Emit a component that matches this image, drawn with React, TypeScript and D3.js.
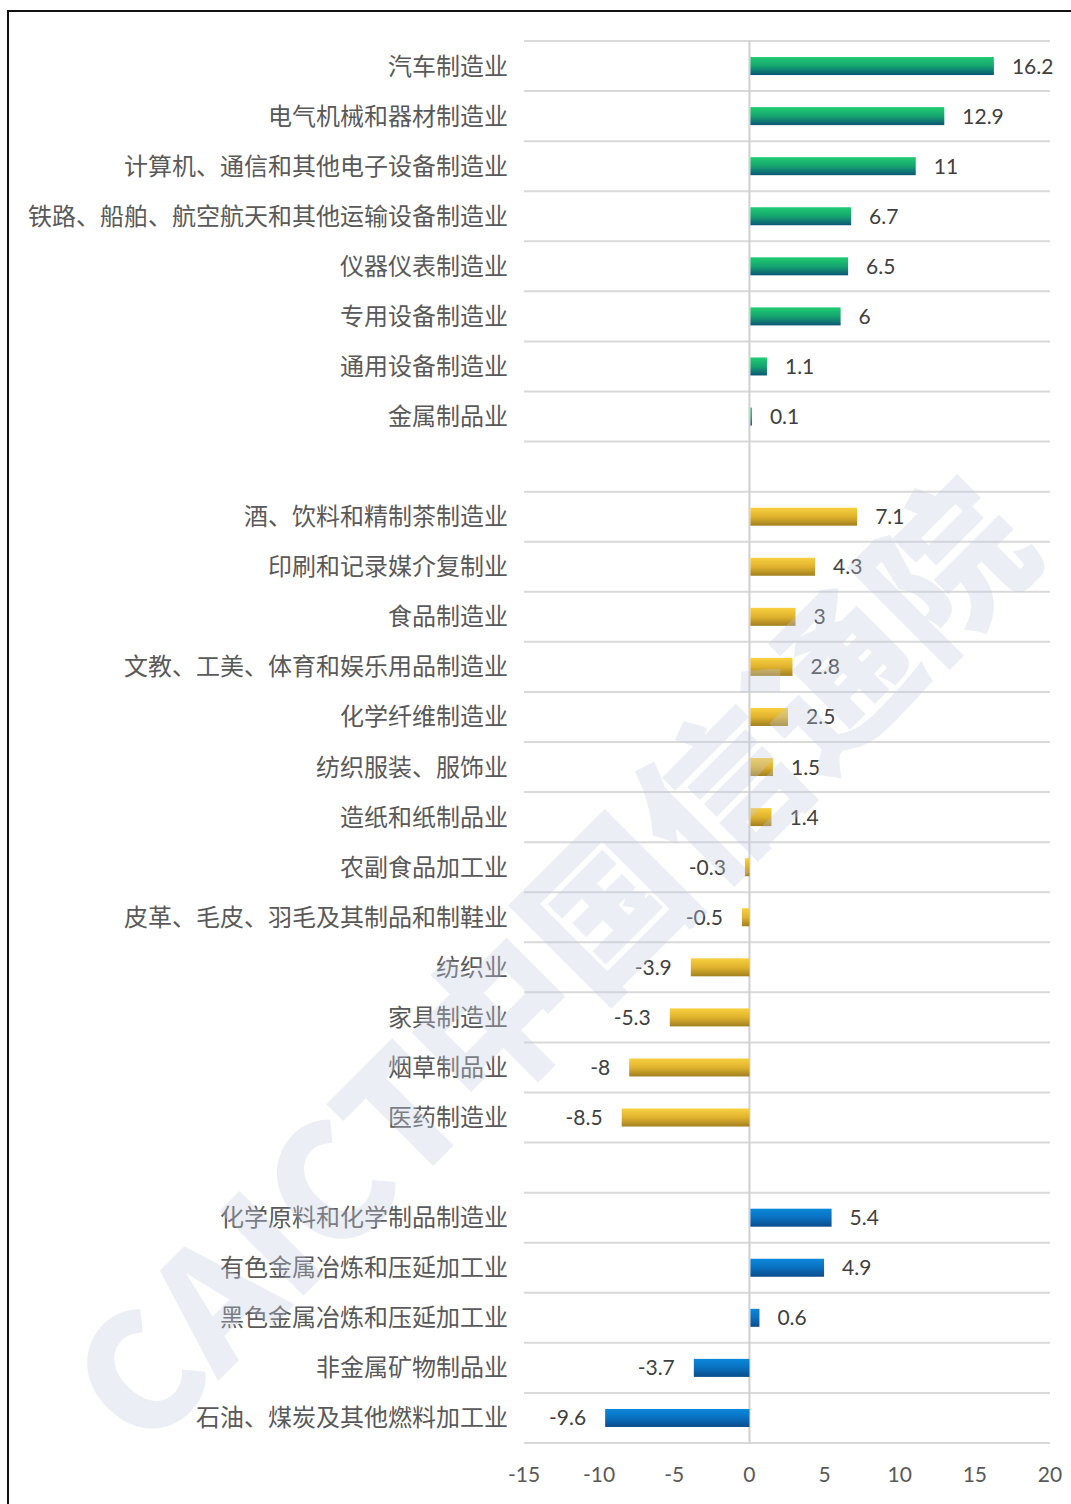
import React from "react";
import * as d3 from "d3";

const groupA = ["汽车制造业", "电气机械和器材制造业", "计算机、通信和其他电子设备制造业", "铁路、船舶、航空航天和其他运输设备制造业", "仪器仪表制造业", "专用设备制造业", "通用设备制造业", "金属制品业"];
const valuesA = [16.2, 12.9, 11, 6.7, 6.5, 6, 1.1, 0.1];
const groupB = ["酒、饮料和精制茶制造业", "印刷和记录媒介复制业", "食品制造业", "文教、工美、体育和娱乐用品制造业", "化学纤维制造业", "纺织服装、服饰业", "造纸和纸制品业", "农副食品加工业", "皮革、毛皮、羽毛及其制品和制鞋业", "纺织业", "家具制造业", "烟草制品业", "医药制造业"];
const valuesB = [7.1, 4.3, 3, 2.8, 2.5, 1.5, 1.4, -0.3, -0.5, -3.9, -5.3, -8, -8.5];
const groupC = ["化学原料和化学制品制造业", "有色金属冶炼和压延加工业", "黑色金属冶炼和压延加工业", "非金属矿物制品业", "石油、煤炭及其他燃料加工业"];
const valuesC = [5.4, 4.9, 0.6, -3.7, -9.6];
const xTicks = [-15, -10, -5, 0, 5, 10, 15, 20];

type Row = { key: string; label: string; value: number | null; group: string };

const rows: Row[] = [
  ...groupA.map((l, i) => ({ key: "a" + i, label: l, value: valuesA[i], group: "A" })),
  { key: "gap1", label: "", value: null, group: "" },
  ...groupB.map((l, i) => ({ key: "b" + i, label: l, value: valuesB[i], group: "B" })),
  { key: "gap2", label: "", value: null, group: "" },
  ...groupC.map((l, i) => ({ key: "c" + i, label: l, value: valuesC[i], group: "C" })),
];

export default function App() {
  const W = 1071, H = 1504;
  const left = 524, right = 1050, top = 41, bottom = 1443;
  const x = d3.scaleLinear().domain([-15, 20]).range([left, right]);
  const y = d3.scaleBand<string>().domain(rows.map((r) => r.key)).range([top, bottom]).paddingInner(0).paddingOuter(0);
  const barH = 18;
  const cjk = '"Noto Sans CJK SC", "Noto Sans", sans-serif';
  const num = 'Lato, "Open Sans", sans-serif';
  const boundaries = d3.range(rows.length + 1).map((i) => top + i * y.step());

  return (
    <div style={{ position: "absolute", left: 0, top: 0, margin: 0 }}>
      <svg width={W} height={H} style={{ display: "block", background: "#fff" }}>
        <defs>
          <linearGradient id="gA" x1="0" y1="0" x2="0" y2="1">
            <stop offset="0" stopColor="#20cc72" />
            <stop offset="0.5" stopColor="#15a46f" />
            <stop offset="1" stopColor="#0b5676" />
          </linearGradient>
          <linearGradient id="gB" x1="0" y1="0" x2="0" y2="1">
            <stop offset="0" stopColor="#f8d040" />
            <stop offset="0.5" stopColor="#e0b22e" />
            <stop offset="1" stopColor="#a1801f" />
          </linearGradient>
          <linearGradient id="gC" x1="0" y1="0" x2="0" y2="1">
            <stop offset="0" stopColor="#0b88da" />
            <stop offset="0.5" stopColor="#0a70c0" />
            <stop offset="1" stopColor="#0a4c8a" />
          </linearGradient>
        </defs>
        <rect x={8} y={11} width={1080} height={1510} fill="none" stroke="#111" strokeWidth={2} />
        {boundaries.map((b, i) => (
          <line key={"g" + i} x1={left} x2={right} y1={b} y2={b} stroke="#d9d9d9" strokeWidth={2} />
        ))}
        <line x1={x(0)} x2={x(0)} y1={top} y2={bottom} stroke="#d0d0d0" strokeWidth={2} />
        {rows.map((r) => {
          const cy = (y(r.key) as number) + y.bandwidth() / 2;
          if (r.value === null) return null;
          const v = r.value;
          const x0 = x(Math.min(0, v));
          const x1 = x(Math.max(0, v));
          const w = Math.max(1, x1 - x0);
          return (
            <g key={r.key}>
              <text x={508} y={cy - 2} textAnchor="end" dominantBaseline="central" fontFamily={cjk} fontSize={24} fill="#595959">{r.label}</text>
              <rect x={v >= 0 ? x0 + 1 : x0} y={cy - barH / 2} width={w} height={barH} fill={`url(#g${r.group})`} />
              <text x={v >= 0 ? x1 + 19 : x0 - 19} y={cy - 1} textAnchor={v >= 0 ? "start" : "end"} dominantBaseline="central" fontFamily={num} fontSize={21} fill="#404040">{String(v)}</text>
            </g>
          );
        })}
        {xTicks.map((t) => (
          <text key={"t" + t} x={x(t)} y={1473} textAnchor="middle" dominantBaseline="central" fontFamily={num} fontSize={21} fill="#595959">{t}</text>
        ))}
        <g transform="translate(545,955) rotate(-45)" opacity={0.32}>
          <text x={0} y={0} textAnchor="middle" dominantBaseline="central" fontFamily='"Noto Sans CJK SC", sans-serif' fontWeight={900} fontSize={160} fill="#c3cbe0">CAICT中国信通院</text>
        </g>
      </svg>
    </div>
  );
}
